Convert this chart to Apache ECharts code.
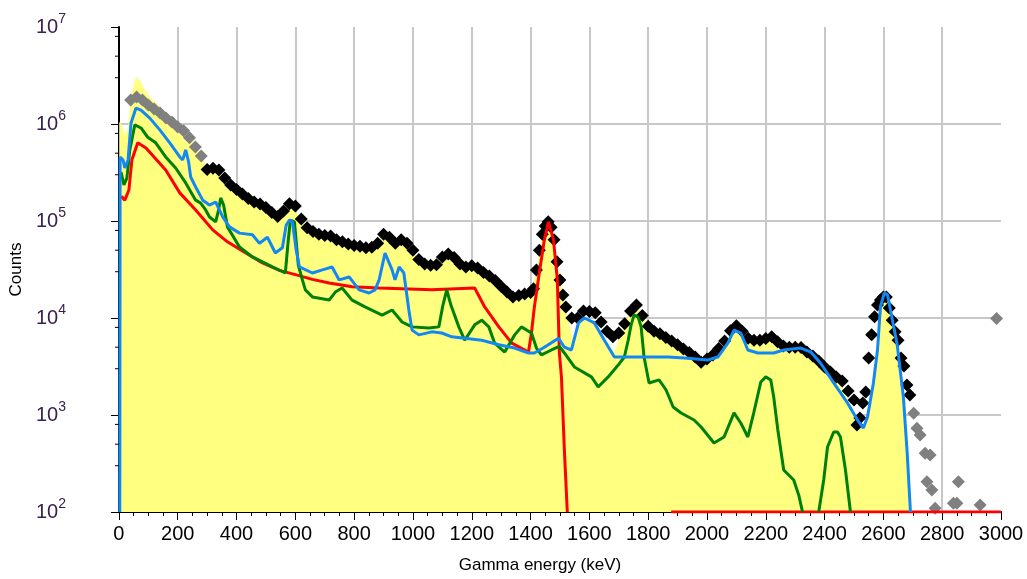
<!DOCTYPE html>
<html><head><meta charset="utf-8">
<script src="https://cdn.jsdelivr.net/npm/echarts@6/dist/echarts.min.js"></script>
<style>html,body{margin:0;padding:0;background:#fff}#c{width:1027px;height:579px}</style>
</head><body><div id="c"></div>
<script>
// Energy (keV) / counts pairs
const yellowArea = [[1,1.05e6],[10,9.8e5],[20,7.7e5],[31,9.1e5],[41,2.0e6],[58,3.05e6],[71,2.84e6],[92,2.14e6],[115,1.77e6],[150,1.40e6],[183,1.12e6],[217,9.0e5],[251,6.8e5],[280,4.9e5],[300,3.4e5],[340,3.36e5],[380,2.35e5],[420,1.9e5],[460,1.57e5],[500,1.38e5],[540,1.11e5],[580,1.51e5],[620,1.05e5],[660,7.8e4],[700,7.1e4],[740,6.4e4],[800,5.6e4],[860,5.35e4],[900,7.3e4],[940,5.9e4],[980,5.9e4],[1020,4.0e4],[1060,3.5e4],[1100,4.26e4],[1120,4.57e4],[1160,3.6e4],[1200,3.45e4],[1240,2.94e4],[1280,2.44e4],[1320,1.85e4],[1360,1.71e4],[1400,1.83e4],[1420,3.13e4],[1440,7.3e4],[1460,9.8e4],[1480,6.4e4],[1500,2.47e4],[1520,1.2e4],[1545,6.0e3],[1565,8.9e3],[1583,1.0e4],[1617,8.9e3],[1651,5.9e3],[1685,4.5e3],[1720,8.7e3],[1740,1.18e4],[1760,1.36e4],[1800,8.2e3],[1860,6.3e3],[1920,4.8e3],[1980,3.5e3],[2040,4.85e3],[2100,8.3e3],[2140,6.2e3],[2200,6.15e3],[2260,5.15e3],[2320,4.95e3],[2380,3.6e3],[2440,2.47e3],[2478,1.5e3],[2512,887],[2532,734],[2546,953],[2566,2.14e3],[2580,4.68e3],[2590,1.3e4],[2603,1.81e4],[2614,1.73e4],[2624,1.21e4],[2647,5.3e3],[2668,1.53e3],[2681,405],[2692,100]];

const grayPoints = [[40,1.77e6],[60,1.9e6],[80,1.77e6],[100,1.57e6],[120,1.43e6],[140,1.30e6],[160,1.15e6],[180,1.05e6],[200,9.3e5],[220,8.5e5],[240,7.2e5],[260,5.8e5],[280,4.68e5],
  [2703,1.04e3],[2714,729],[2725,622],[2742,403],[2759,387],[2748,205],[2765,169],[2776,109],[2838,123],[2855,205],[2850,123],[2929,118],[2985,9.9e3]];

const blackPoints = [[300,3.4e5],[320,3.5e5],[340,3.36e5],[360,2.77e5],[380,2.35e5],[400,2.11e5],[420,1.9e5],[440,1.71e5],[460,1.57e5],[480,1.5e5],[500,1.38e5],[520,1.22e5],[540,1.11e5],[560,1.27e5],[580,1.51e5],[600,1.43e5],[620,1.05e5],[640,8.5e4],[660,7.8e4],[680,7.3e4],[700,7.1e4],[720,7.0e4],[740,6.4e4],[760,6.1e4],[780,5.8e4],[800,5.6e4],[820,5.5e4],[840,5.3e4],[860,5.35e4],[880,5.9e4],[900,7.3e4],[920,6.8e4],[940,5.9e4],[960,6.4e4],[980,5.9e4],[1000,5.0e4],[1020,4.0e4],[1040,3.6e4],[1060,3.5e4],[1080,3.55e4],[1100,4.26e4],[1120,4.57e4],[1140,4.2e4],[1160,3.6e4],[1180,3.36e4],[1200,3.45e4],[1220,3.27e4],[1240,2.94e4],[1260,2.71e4],[1280,2.44e4],[1300,2.11e4],[1320,1.85e4],[1340,1.65e4],[1360,1.71e4],[1380,1.77e4],[1400,1.83e4],[1410,2.0e4],[1420,3.13e4],[1430,5.0e4],[1440,7.3e4],[1450,8.9e4],[1460,9.8e4],[1470,8.6e4],[1480,6.4e4],[1490,3.8e4],[1500,2.47e4],[1510,1.73e4],[1520,1.3e4],[1540,1.0e4],[1560,1.0e4],[1580,1.18e4],[1600,1.17e4],[1620,1.13e4],[1640,9.1e3],[1660,7.3e3],[1680,6.4e3],[1700,7.0e3],[1720,8.7e3],[1740,1.18e4],[1760,1.36e4],[1780,1.06e4],[1800,8.2e3],[1820,7.3e3],[1840,6.9e3],[1860,6.3e3],[1880,5.8e3],[1900,5.3e3],[1920,4.8e3],[1940,4.4e3],[1960,3.96e3],[1980,3.5e3],[2000,3.78e3],[2020,4.16e3],[2040,4.85e3],[2060,5.8e3],[2080,7.4e3],[2100,8.3e3],[2120,7.3e3],[2140,6.2e3],[2160,5.9e3],[2180,5.9e3],[2200,6.15e3],[2220,6.4e3],[2240,5.7e3],[2260,5.15e3],[2280,5.0e3],[2300,5.0e3],[2320,4.95e3],[2340,4.46e3],[2360,4.06e3],[2380,3.6e3],[2400,3.13e3],[2420,2.77e3],[2440,2.47e3],[2460,2.24e3],[2480,1.77e3],[2500,1.43e3],[2510,790],[2520,931],[2530,1.33e3],[2540,1.73e3],[2550,3.87e3],[2560,6.7e3],[2570,1.03e4],[2580,1.36e4],[2590,1.53e4],[2600,1.65e4],[2610,1.65e4],[2620,1.27e4],[2630,9.5e3],[2640,7.2e3],[2650,5.9e3],[2660,3.87e3],[2670,3.2e3],[2680,2.04e3],[2690,1.61e3]];

const blueLine = [[3,100],[4,4.57e5],[14,4.26e5],[20,3.52e5],[31,4.26e5],[41,1.02e6],[58,1.46e6],[75,1.39e6],[105,1.15e6],[139,8.7e5],[173,6.4e5],[207,4.57e5],[217,4.26e5],[227,5.4e5],[237,4.06e5],[244,2.84e5],[261,2.24e5],[285,1.64e5],[308,1.46e5],[329,1.57e5],[353,1.10e5],[376,8.7e4],[410,7.5e4],[454,7.2e4],[478,5.9e4],[505,6.8e4],[532,4.68e4],[556,5.3e4],[569,9.1e4],[580,1.02e5],[590,9.8e4],[603,5.0e4],[614,3.36e4],[658,2.91e4],[692,3.13e4],[725,3.36e4],[749,2.47e4],[783,2.65e4],[817,1.95e4],[851,1.81e4],[871,1.95e4],[885,2.47e4],[905,4.68e4],[929,3.13e4],[939,2.47e4],[953,3.36e4],[969,2.91e4],[986,1.21e4],[997,7.5e3],[1020,6.7e3],[1064,7.2e3],[1098,7.0e3],[1132,6.4e3],[1176,6.2e3],[1234,5.9e3],[1292,5.3e3],[1346,4.9e3],[1393,4.36e3],[1413,4.36e3],[1447,5.0e3],[1495,6.2e3],[1515,5.0e3],[1539,4.68e3],[1563,8.9e3],[1583,1.0e4],[1617,8.9e3],[1651,5.9e3],[1685,3.96e3],[1752,3.96e3],[1868,3.96e3],[1922,3.87e3],[2003,3.69e3],[2037,3.96e3],[2071,5.5e3],[2092,7.5e3],[2115,7.0e3],[2139,4.68e3],[2173,4.36e3],[2227,4.36e3],[2261,4.68e3],[2319,4.9e3],[2353,4.46e3],[2386,3.44e3],[2431,2.14e3],[2478,1.33e3],[2512,887],[2532,734],[2546,953],[2566,2.14e3],[2580,4.68e3],[2590,1.3e4],[2603,1.81e4],[2614,1.73e4],[2624,1.21e4],[2647,5.3e3],[2668,1.53e3],[2681,405],[2692,100]];

const greenLine = [[7,3.2e5],[17,2.35e5],[27,2.77e5],[37,5.4e5],[54,9.8e5],[75,9.1e5],[98,7.3e5],[125,6.4e5],[159,4.57e5],[193,3.52e5],[227,2.47e5],[261,1.64e5],[278,1.53e5],[295,1.30e5],[308,1.10e5],[329,9.8e4],[339,1.3e5],[346,1.73e5],[356,1.46e5],[369,8.7e4],[410,5.4e4],[454,4.26e4],[522,3.36e4],[566,2.91e4],[576,6.4e4],[583,1.02e5],[597,9.8e4],[610,3.52e4],[624,2.47e4],[634,1.95e4],[658,1.65e4],[715,1.53e4],[736,1.85e4],[759,2.04e4],[793,1.53e4],[837,1.30e4],[895,1.07e4],[929,1.21e4],[963,9.1e3],[997,8.1e3],[1054,7.9e3],[1088,8.1e3],[1102,1.36e4],[1115,1.95e4],[1129,1.36e4],[1156,8.1e3],[1176,5.9e3],[1210,8.5e3],[1234,9.5e3],[1258,8.1e3],[1278,5.5e3],[1312,4.46e3],[1346,6.7e3],[1369,8.1e3],[1403,7.0e3],[1420,4.9e3],[1437,4.16e3],[1471,4.68e3],[1498,5.1e3],[1515,4.36e3],[1549,3.13e3],[1607,2.47e3],[1630,1.95e3],[1664,2.47e3],[1698,3.27e3],[1719,3.96e3],[1732,5.9e3],[1742,8.5e3],[1752,1.07e4],[1766,1.02e4],[1776,8.1e3],[1786,3.96e3],[1803,2.14e3],[1837,2.30e3],[1861,1.81e3],[1885,1.21e3],[1912,1.05e3],[1956,887],[1980,752],[2024,514],[2058,593],[2092,1.05e3],[2115,827],[2139,593],[2159,1.05e3],[2183,2.19e3],[2200,2.47e3],[2217,2.30e3],[2227,1.53e3],[2241,700],[2261,271],[2295,214],[2312,150],[2325,100]];
const greenLine2 = [[2380,100],[2397,214],[2410,468],[2431,668],[2444,668],[2454,593],[2471,271],[2488,100]];

const redLine = [[8,1.8e5],[20,1.64e5],[34,2.09e5],[44,4.25e5],[64,6.4e5],[92,5.66e5],[159,3.36e5],[207,1.95e5],[261,1.30e5],[319,8.1e4],[369,6.1e4],[430,4.7e4],[488,3.7e4],[546,3.1e4],[600,2.8e4],[658,2.5e4],[715,2.3e4],[793,2.1e4],[885,2.04e4],[1064,1.95e4],[1210,2.04e4],[1244,1.3e4],[1292,8.1e3],[1336,5.5e3],[1393,4.46e3],[1403,7.0e3],[1413,1.3e4],[1431,3.1e4],[1447,6.4e4],[1461,9.8e4],[1478,6.4e4],[1491,2.5e4],[1498,4.36e3],[1505,2.47e3],[1515,436],[1525,100]];
const redFloor = [[1878,100],[3000,100]];

const yMinorTicks = [3e2,5e2,8e2,3e3,5e3,8e3,3e4,5e4,8e4,3e5,5e5,8e5,3e6,5e6,8e6];

const FONT = 'Liberation Sans, Arial, sans-serif';
const chart = echarts.init(document.getElementById('c'));
const lineS = (data, color, z) => ({type:'line', data, showSymbol:false, symbol:'none', z,
  lineStyle:{color, width:3}, itemStyle:{color}, animation:false});
chart.setOption({
  animation:false,
  grid:{left:116, right:26, top:27, bottom:67},
  xAxis:{type:'value', min:0, max:3000, interval:200,
    name:'Gamma energy (keV)', nameLocation:'middle', nameGap:45,
    nameTextStyle:{fontFamily:FONT, fontSize:17, color:'#000', padding:[0,40,0,0]},
    axisLine:{show:true, lineStyle:{color:'#000', width:2}},
    axisTick:{show:true, length:8, lineStyle:{color:'#000', width:1}},
    minorTick:{show:true, splitNumber:4, length:4, lineStyle:{color:'#000', width:1}},
    axisLabel:{fontFamily:FONT, fontSize:20, color:'#000', margin:12, formatter:v => String(v)},
    splitLine:{show:true, showMinLine:false, showMaxLine:false, lineStyle:{color:'#c8c8c8', width:2}}
  },
  yAxis:{type:'log', logBase:10, min:100, max:1e7, splitNumber:5,
    name:'Counts', nameLocation:'middle', nameGap:81, nameRotate:90,
    nameTextStyle:{fontFamily:FONT, fontSize:17, color:'#000'},
    axisLine:{show:true, onZero:false, lineStyle:{color:'#000', width:2}},
    axisTick:{show:true, length:8, lineStyle:{color:'#000', width:1}},
    axisLabel:{margin:53, formatter:v => '{b|10}{s|' + Math.round(Math.log10(v)) + '}',
      rich:{b:{fontFamily:FONT, fontSize:20, color:'#3a2050', lineHeight:20, verticalAlign:'bottom'},
            s:{fontFamily:FONT, fontSize:14, color:'#3a2050', lineHeight:14, verticalAlign:'bottom', padding:[0,0,11,0]}}},
    splitLine:{show:true, showMinLine:false, showMaxLine:false, lineStyle:{color:'#c8c8c8', width:2}}
  },
  series:[
    {type:'line', data:yellowArea, showSymbol:false, symbol:'none', z:1,
      lineStyle:{width:0, color:'#ffff80'}, areaStyle:{color:'#ffff80', opacity:1, origin:'start'}},
    {type:'scatter', data:grayPoints, symbol:'diamond', symbolSize:[13,13], z:2, itemStyle:{color:'#808080', opacity:1}},
    {type:'scatter', data:blackPoints, symbol:'diamond', symbolSize:[13,13], z:2, itemStyle:{color:'#000000', opacity:1}},
    lineS(redLine, '#ff0000', 3),
    lineS(redFloor, '#ff0000', 3),
    lineS(greenLine, '#008000', 4),
    lineS(greenLine2, '#008000', 4),
    lineS(blueLine, '#1388f5', 5),
    {type:'custom', z:10, silent:true, clip:false,
      data:yMinorTicks.map(v => [0, v]),
      encode:{x:0, y:1},
      renderItem:(params, api) => {
        const p = api.coord([0, api.value(1)]);
        return {type:'line', shape:{x1:p[0]-4, y1:p[1], x2:p[0], y2:p[1]}, style:{stroke:'#000', lineWidth:1}};
      }}
  ]
});
</script></body></html>
